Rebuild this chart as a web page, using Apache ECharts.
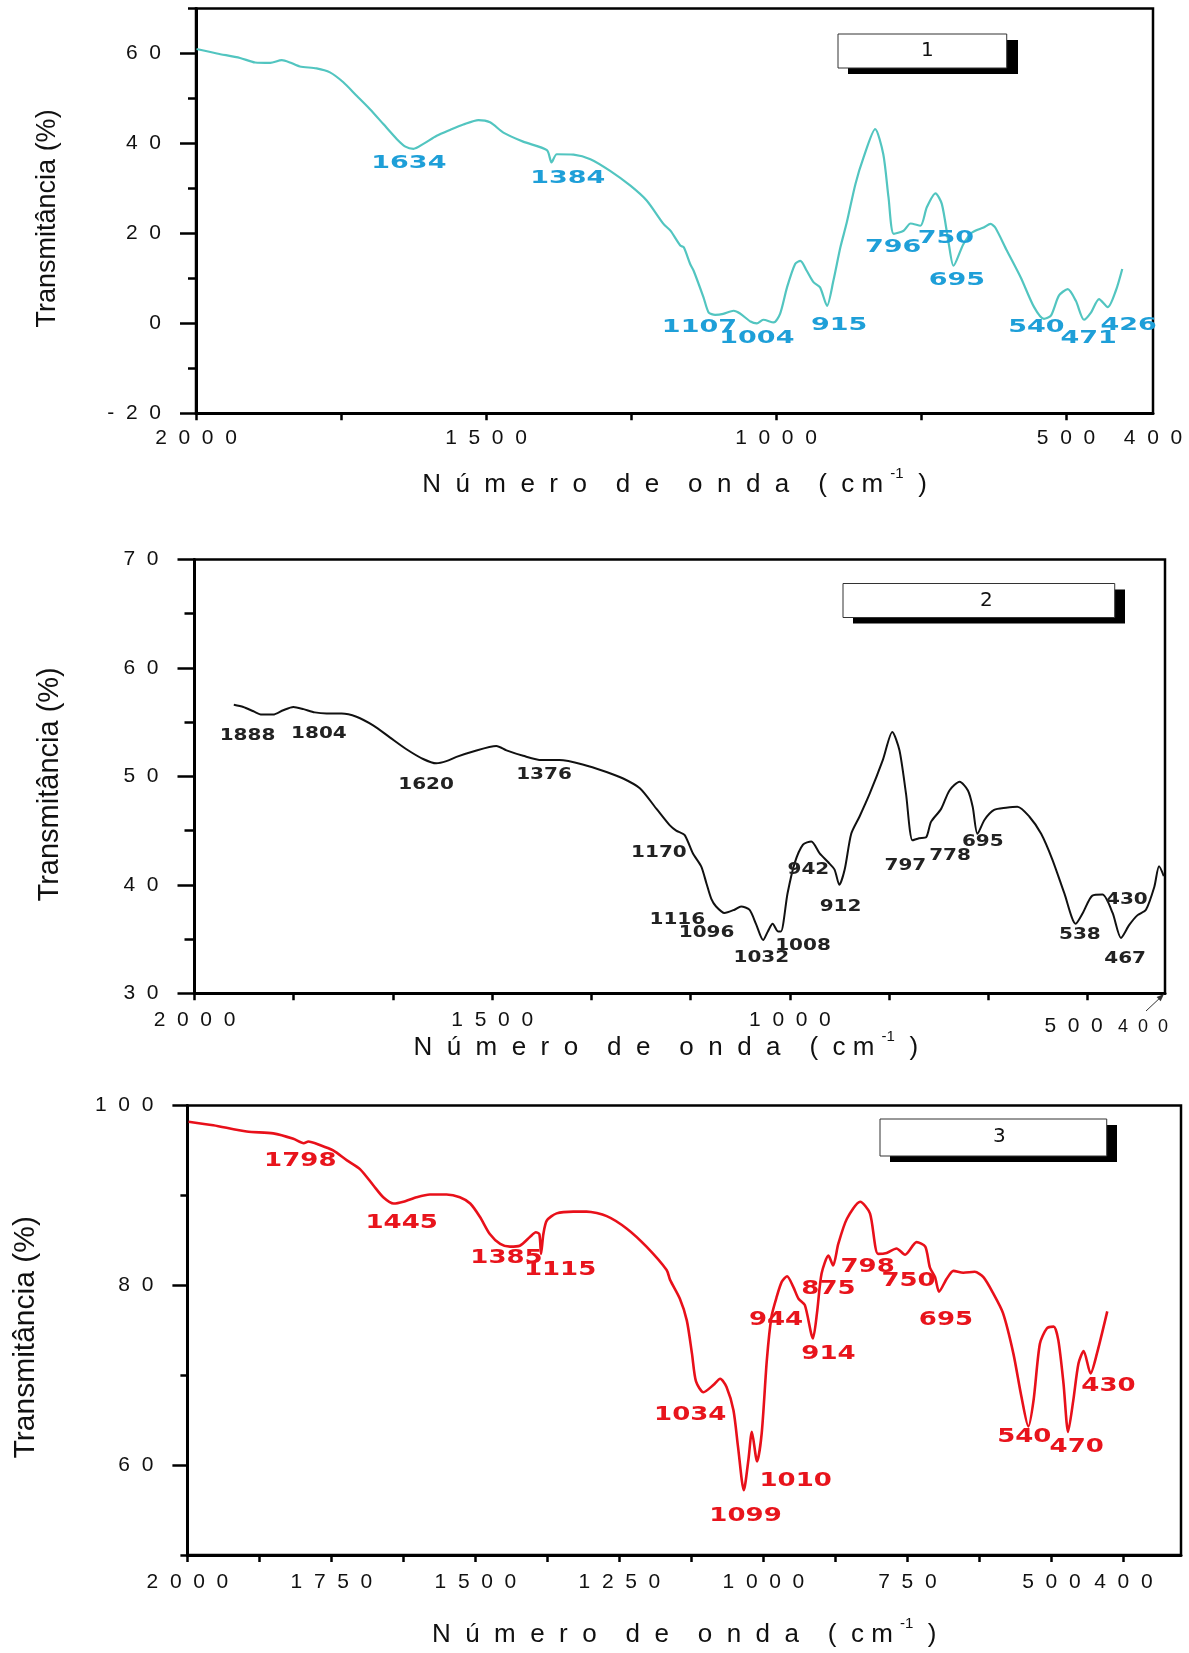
<!DOCTYPE html>
<html>
<head>
<meta charset="utf-8">
<script src="https://cdn.jsdelivr.net/npm/echarts@6/dist/echarts.min.js"></script>
<style>
html,body{margin:0;padding:0;background:#fff;}
#c{width:1189px;height:1653px;}
</style>
</head>
<body>
<div id="c"></div>
<script>
// ---------- Spectrum 1 (teal) ----------
const wn1 = [1999,1964,1924,1898,1872,1852,1838,1821,1792,1769,1746,1723,1700,1677,1654,1639,1625,1608,1585,1562,1539,1513,1493,1470,1436,1395,1387,1378,1349,1320,1286,1251,1223,1194,1182,1165,1159,1148,1142,1125,1116,1105,1091,1073,1062,1044,1033,1022,1004,993,981,967,958,947,935,924,912,901,889,878,863,849,829,815,806,797,780,768,751,740,725,714,702,694,677,662,642,630,622,602,578,555,538,526,512,497,483,469,457,443,428,414,403];
const tr1 = [61.0,60.0,59.0,58.0,57.9,58.5,58.0,57.1,56.7,55.8,53.6,50.6,47.6,44.3,41.0,39.3,38.8,39.9,41.7,43.0,44.2,45.2,44.7,42.4,40.4,38.5,35.8,37.6,37.5,36.5,33.9,30.6,27.3,22.1,20.6,17.3,16.9,13.2,11.7,5.8,2.4,1.9,2.1,2.8,2.2,0.4,0.0,0.8,0.2,2.1,8.0,13.2,13.9,11.7,9.1,8.0,3.9,9.5,16.9,22.4,31.0,36.9,43.2,37.6,28.0,19.9,20.6,22.2,21.7,25.8,28.9,26.5,17.6,12.8,17.6,20.2,21.3,22.1,21.3,16.2,10.2,3.6,1.0,1.7,6.2,7.6,5.0,0.8,2.4,5.4,3.6,7.3,12.1];
const pk1Text = ['1634','1384','1107','1004','915','796','750','695','540','471','426'];
const pk1X = [1633,1359,1132,1033,891,798,707,688,551,461,392];
const pk1Y = [35.5,32.2,-0.9,-3.4,-0.5,16.9,18.8,9.5,-0.9,-3.4,-0.5];

// ---------- Spectrum 2 (black) ----------
const wn2 = [1934,1918,1901,1887,1868,1851,1834,1817,1798,1778,1753,1728,1700,1672,1644,1616,1594,1577,1560,1532,1493,1476,1448,1417,1387,1348,1308,1280,1252,1224,1202,1191,1177,1163,1149,1140,1132,1124,1110,1093,1082,1068,1057,1045,1037,1029,1020,1015,1004,992,978,964,950,936,925,917,908,897,883,866,844,828,816,805,794,783,771,763,746,732,715,701,693,685,673,657,637,618,598,578,559,539,520,508,492,475,458,444,430,416,402,388,380,372];
const tr2 = [56.6,56.4,56.0,55.7,55.7,56.1,56.4,56.2,55.9,55.8,55.8,55.5,54.7,53.6,52.5,51.6,51.2,51.4,51.8,52.3,52.8,52.4,51.9,51.5,51.5,51.1,50.4,49.8,48.9,47.0,45.5,45.0,44.6,42.9,41.7,40.1,38.7,38.0,37.4,37.7,38.0,37.7,36.4,34.9,35.7,36.4,35.7,35.7,39.2,42.0,43.7,44.0,42.9,42.1,41.4,40.0,41.4,44.7,46.3,48.4,51.5,54.1,52.4,48.4,44.1,44.3,44.4,45.8,47.0,48.7,49.5,48.7,47.2,44.7,46.0,46.9,47.1,47.2,46.3,44.7,42.3,39.2,36.4,37.4,39.0,39.1,37.4,35.1,36.3,37.2,37.7,39.8,41.7,40.8];
const pk2Text = ['1888','1804','1620','1376','1170','1116','1096','1032','1008','942','912','797','778','695','538','430','467'];
const pk2X = [1911,1791,1611,1413,1220,1189,1140,1048,978,969,915,806,731,676,513,434,437];
const pk2Y = [53.7,53.9,49.2,50.1,42.9,36.8,35.6,33.3,34.4,41.4,38.0,41.7,42.7,44.0,35.4,38.6,33.2];

// ---------- Spectrum 3 (red) ----------
const wn3 = [1998,1955,1897,1851,1816,1798,1790,1770,1747,1723,1700,1677,1660,1642,1625,1602,1579,1550,1527,1509,1492,1475,1457,1440,1423,1405,1395,1389,1386,1382,1376,1359,1330,1307,1272,1237,1203,1168,1162,1145,1133,1124,1117,1104,1087,1075,1064,1052,1044,1034,1026,1020,1011,1003,994,986,977,968,959,948,939,928,914,907,899,887,879,870,855,832,815,801,786,769,754,734,719,711,702,695,682,670,653,633,618,601,584,566,552,540,531,520,508,496,488,479,471,462,453,444,432,421,403];
const tr3 = [98.2,97.8,97.1,96.9,96.3,95.8,96.0,95.6,95.0,93.9,92.9,91.1,89.8,89.1,89.3,89.8,90.1,90.1,89.8,89.1,87.6,85.7,84.6,84.3,84.4,85.4,85.9,85.7,83.5,85.7,87.2,88.0,88.2,88.2,87.7,86.3,84.3,81.7,80.6,78.5,76.1,72.4,69.3,68.1,68.9,69.6,68.7,66.1,62.0,57.2,60.6,63.7,60.4,63.5,71.7,76.5,78.7,80.4,81.0,79.8,78.5,77.8,74.1,76.9,81.3,83.3,82.2,84.6,87.4,89.3,88.0,83.5,83.6,84.1,83.4,84.8,84.3,82.0,80.9,79.3,80.7,81.6,81.4,81.5,80.9,79.1,76.9,72.4,67.6,64.3,67.2,73.5,75.2,75.4,73.9,69.1,63.7,67.2,71.3,72.7,70.2,72.4,77.1];
const pk3Text = ['1798','1445','1385','1115','1034','1099','1010','944','914','875','798','750','695','540','470','430'];
const pk3X = [1804,1628,1446,1353,1127,1031,944,978,887,887,819,748,683,547,456,401];
const pk3Y = [93.9,87.0,83.1,81.7,65.6,54.4,58.3,76.2,72.4,79.6,82.1,80.5,76.2,63.2,62.0,68.8];

// ---------- Axis ticks and labels ----------
const xTicks1 = [2000,1750,1500,1250,1000,750,500];
const xLabVals1 = [2000,1500,1000,500,350];
const xLabText1 = ['2000','1500','1000','500','400'];
const xTicks2 = [2000,1833.33,1666.67,1500,1333.33,1166.67,1000,833.33,666.67,500];
const xLabVals2 = [2000,1500,1000,500,370];
const xLabText2 = ['2000','1500','1000','500','400'];
const xTicks3 = [2000,1875,1750,1625,1500,1375,1250,1125,1000,875,750,625,500,375];
const xLabVals3 = [2000,1750,1500,1250,1000,750,500,375];
const xLabText3 = ['2000','1750','1500','1250','1000','750','500','400'];

const yMajor1 = [-20,0,20,40,60];
const yMinor1 = [-10,10,30,50,70];
const yMajor2 = [30,40,50,60,70];
const yMinor2 = [35,45,55,65];
const yMajor3 = [60,80,100];
const yMinor3 = [50,70,90];

const FONT = '"Liberation Sans", Arial, sans-serif';
const LBLFONT = '"DejaVu Sans", Verdana, sans-serif';
const XNAME = 'N  ú  m  e  r  o    d  e    o  n  d  a    (  c m {sup|-1}  )';
const YNAME = 'Transmitância (%)';

function spaced(s) { return String(s).split('').join('  '); }

function pairs(xs, ys) { return xs.map((x, i) => [x, ys[i]]); }

function xAxisCfg(o) {
  return {
    type: 'value', gridIndex: o.g, inverse: true, min: o.min, max: 2000, position: 'bottom',
    axisLine: { show: true, onZero: false, lineStyle: { color: '#000', width: 3 } },
    axisTick: { show: true, customValues: o.ticks, length: 7, lineStyle: { color: '#000', width: 2.5 } },
    axisLabel: {
      customValues: o.labVals, margin: o.margin, fontSize: 21, color: '#111', fontFamily: FONT,
      formatter: function (v) {
        const i = o.labVals.findIndex(x => Math.abs(x - v) < 0.01);
        if (i < 0) return '';
        const t = spaced(o.labText[i]);
        if (o.richFmt) return o.richFmt(o.labText[i], t);
        return t;
      },
      rich: o.rich || {}
    },
    splitLine: { show: false },
    name: XNAME, nameLocation: 'middle', nameGap: o.nameGap, nameMoveOverlap: false,
    nameTextStyle: {
      fontSize: 26, fontFamily: FONT, color: '#111', lineHeight: 38, padding: o.namePad || 0,
      rich: { sup: { fontSize: 15, fontFamily: FONT, color: '#111', verticalAlign: 'top', lineHeight: 15 } }
    }
  };
}

function yAxisCfgs(o) {
  return [{
    type: 'value', gridIndex: o.g, min: o.min, max: o.max, position: 'left',
    axisLine: { show: true, onZero: false, lineStyle: { color: '#000', width: 3 } },
    axisTick: { show: true, customValues: o.major, length: o.majLen, lineStyle: { color: '#000', width: 2.5 } },
    axisLabel: { customValues: o.major, margin: o.margin, fontSize: 21, color: '#111', fontFamily: FONT,
      formatter: v => spaced(v) },
    splitLine: { show: false },
    name: YNAME, nameLocation: 'middle', nameGap: o.nameGap, nameMoveOverlap: false,
    nameTextStyle: { fontSize: o.nameSize, fontFamily: FONT, color: '#111', padding: o.namePad || 0 }
  }, {
    type: 'value', gridIndex: o.g, min: o.min, max: o.max, position: 'left', offset: 0,
    axisLine: { show: false },
    axisTick: { show: true, customValues: o.minor, length: o.minLen, lineStyle: { color: '#000', width: 2.5 } },
    axisLabel: { show: false },
    splitLine: { show: false }
  }];
}

function lineSeries(name, g, xs, ys, color, width) {
  return {
    type: 'line', name: name, xAxisIndex: g, yAxisIndex: g * 2,
    data: pairs(xs, ys), showSymbol: false, symbol: 'none', smooth: 0.25,
    lineStyle: { color: color, width: width }, itemStyle: { color: color },
    silent: true, z: 3
  };
}

function peakSeries(g, texts, xs, ys, color, size, sx) {
  return {
    type: 'custom', name: 'picos' + (g + 1), xAxisIndex: g, yAxisIndex: g * 2,
    silent: true, clip: false, z: 5,
    data: xs.map((x, i) => [x, ys[i], i]),
    renderItem: function (params, api) {
      const p = api.coord([api.value(0), api.value(1)]);
      const i = api.value(2);
      return {
        type: 'text', x: p[0], y: p[1], scaleX: sx, scaleY: 1,
        style: { text: texts[i], fill: color, fontSize: size, fontWeight: 'bold', fontFamily: LBLFONT,
          align: 'center', verticalAlign: 'middle' }
      };
    }
  };
}

function legendCfg(name, left, top, pad) {
  return {
    data: [name], left: left, top: top, orient: 'horizontal', selectedMode: false, z: 10,
    icon: 'none', itemWidth: 0, itemHeight: 0, itemGap: 0, padding: pad,
    backgroundColor: '#fff', borderColor: '#333', borderWidth: 1,
    textStyle: { fontSize: 20, lineHeight: 20, fontFamily: LBLFONT, color: '#111' }
  };
}

// black offset blocks behind the legend boxes (drop shadow)
function shadowRect(x, y, w, h) {
  return { type: 'rect', silent: true, z: 1, shape: { x: x, y: y, width: w, height: h }, style: { fill: '#000' } };
}

const chart = echarts.init(document.getElementById('c'), null, { renderer: 'canvas' });

const option = {
  animation: false,
  backgroundColor: '#fff',
  grid: [
    { left: 196, top: 8.5, width: 957, height: 404.8, show: true, borderColor: '#000', borderWidth: 2.5, backgroundColor: 'transparent', containLabel: false, outerBoundsMode: 'none' },
    { left: 194.5, top: 559.5, width: 970.5, height: 433.7, show: true, borderColor: '#000', borderWidth: 2.5, backgroundColor: 'transparent', containLabel: false, outerBoundsMode: 'none' },
    { left: 187.4, top: 1105.5, width: 993.6, height: 449.5, show: true, borderColor: '#000', borderWidth: 2.5, backgroundColor: 'transparent', containLabel: false, outerBoundsMode: 'none' }
  ],
  legend: [
    legendCfg('1', 838, 34, [7, 73, 7, 78]),
    legendCfg('2', 843, 583.5, [7, 122, 7, 132]),
    legendCfg('3', 880, 1119, [8, 101, 9, 108])
  ],
  graphic: [
    shadowRect(848, 40, 170, 34),
    shadowRect(853, 589.5, 272, 34),
    shadowRect(890, 1125, 227, 37),
    // small pointer from the "400" label of panel 2 to the axis end
    { type: 'line', silent: true, z: 6, shape: { x1: 1146, y1: 1011, x2: 1162, y2: 996 }, style: { stroke: '#333', lineWidth: 1 } },
    { type: 'polygon', silent: true, z: 6, shape: { points: [[1164, 994], [1160.7, 1001.3], [1156.6, 996.9]] }, style: { fill: '#333' } }
  ],
  xAxis: [
    xAxisCfg({ g: 0, min: 350, ticks: xTicks1, labVals: xLabVals1, labText: xLabText1, margin: 14, nameGap: 53 }),
    xAxisCfg({ g: 1, min: 370, ticks: xTicks2, labVals: xLabVals2, labText: xLabText2, margin: 17, nameGap: 36,
      namePad: [0, 28, 0, 0],
      richFmt: function (raw, t) {
        if (raw === '500') return '{a|' + t + '}';
        if (raw === '400') return '{b|' + t + '}';
        return t;
      },
      rich: {
        a: { fontSize: 21, fontFamily: FONT, color: '#111', padding: [6, 28, 0, 0] },
        b: { fontSize: 18, fontFamily: FONT, color: '#111', padding: [8, 44, 0, 0] }
      } }),
    xAxisCfg({ g: 2, min: 275, ticks: xTicks3, labVals: xLabVals3, labText: xLabText3, margin: 17, nameGap: 61 })
  ],
  yAxis: [].concat(
    yAxisCfgs({ g: 0, min: -20, max: 70, major: yMajor1, minor: yMinor1, majLen: 16, minLen: 8, margin: 35, nameGap: 135, nameSize: 27, namePad: [0, 15, 0, 0] }),
    yAxisCfgs({ g: 1, min: 30, max: 70, major: yMajor2, minor: yMinor2, majLen: 17, minLen: 10, margin: 36, nameGap: 130, nameSize: 29, namePad: [0, 16, 0, 0] }),
    yAxisCfgs({ g: 2, min: 50, max: 100, major: yMajor3, minor: yMinor3, majLen: 15, minLen: 7, margin: 34, nameGap: 147, nameSize: 30, namePad: [0, 14, 0, 0] })
  ),
  series: [
    lineSeries('1', 0, wn1, tr1, '#52C5C0', 2.2),
    lineSeries('2', 1, wn2, tr2, '#111111', 2),
    lineSeries('3', 2, wn3, tr3, '#E8101A', 2.6),
    peakSeries(0, pk1Text, pk1X, pk1Y, '#1E9FD8', 18, 1.5),
    peakSeries(1, pk2Text, pk2X, pk2Y, '#222222', 16, 1.25),
    peakSeries(2, pk3Text, pk3X, pk3Y, '#E8141C', 20, 1.3)
  ]
};

chart.setOption(option);
</script>
</body>
</html>
